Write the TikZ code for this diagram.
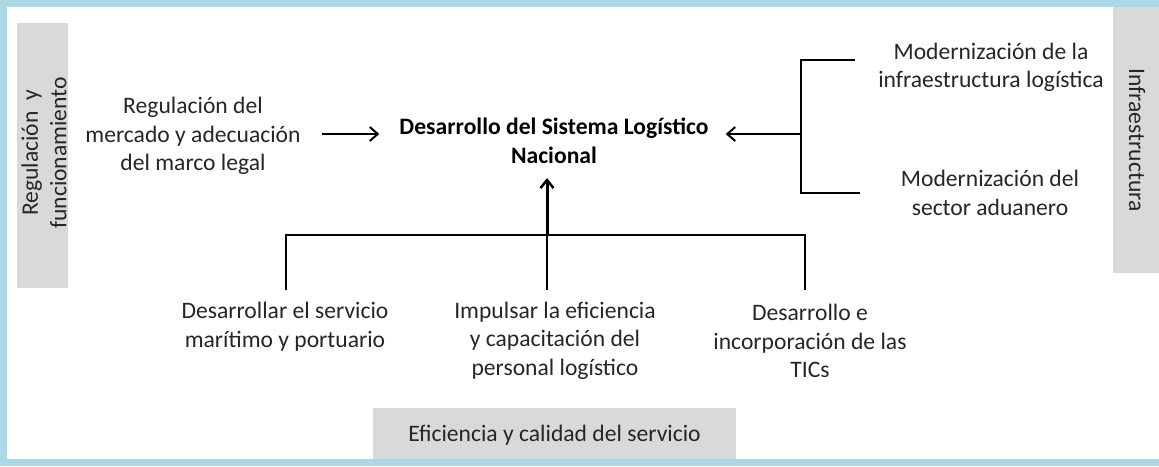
\documentclass[tikz,border=0pt]{standalone}
\usepackage{fontspec}
\setmainfont{Carlito}
\usetikzlibrary{arrows.meta}
\definecolor{frameblue}{HTML}{ADD8E6}
\definecolor{boxgray}{HTML}{D9D9D9}
\definecolor{txt}{HTML}{262626}
\begin{document}
\begin{tikzpicture}[x=1pt,y=-1pt,
  lbl/.style={align=center,font=\fontsize{23.6}{28.5}\selectfont,text=txt,inner sep=0pt},
  bold/.style={lbl,font=\fontsize{23.6}{29}\selectfont\bfseries,text=black},
  conn/.style={line width=2pt,draw=black},
  arr/.style={conn,-{Straight Barb[length=8pt,width=14pt,line width=2pt]}},
  uparr/.style={line width=3pt,draw=black,-{Straight Barb[length=8pt,width=13pt,line width=2.5pt]}},
  graybox/.style={fill=boxgray,draw=none,inner sep=0pt}]
\fill[frameblue] (0,0) rectangle (1159,466);
\fill[white] (7,7) rectangle (1159,459);
\useasboundingbox (0,0) rectangle (1159,466);
% gray category boxes
\node[graybox,minimum width=51pt,minimum height=265pt] (gl) at (42.5,155.5) {};
\node[lbl,rotate=90] (gltxt) at (44,153) {Regulación\ \ y\\funcionamiento};
\node[graybox,minimum width=46pt,minimum height=266pt] (gr) at (1136,140) {};
\node[lbl,rotate=-90] (grtxt) at (1137,140) {Infraestructura};
\node[graybox,minimum width=363pt,minimum height=51pt] (gb) at (554.5,433.5) {};
\node[lbl] (gbtxt) at (554.5,435) {Eficiencia y calidad del servicio};
% central node
\node[bold] (sys) at (554,141) {Desarrollo del Sistema Logístico\\Nacional};
% left
\node[lbl] (reg) at (193,136) {Regulación del\\mercado y adecuación\\del marco legal};
% right
\node[lbl] (infra) at (991,67.5) {Modernización de la\\infraestructura logística};
\node[lbl] (adu) at (990,193) {Modernización del\\sector aduanero};
% bottom
\node[lbl] (mar) at (285,326.5) {Desarrollar el servicio\\marítimo y portuario};
\node[lbl] (imp) at (555,340.5) {Impulsar la eficiencia\\y capacitación del\\personal logístico};
\node[lbl] (tic) at (810,341) {Desarrollo e\\incorporación de las\\TICs};
% connector junctions and free ends
\coordinate (bt) at (801,60);
\coordinate (bb) at (801,193);
\coordinate (bm) at (801,134);
\coordinate (hl) at (286,235);
\coordinate (hc) at (547,235);
\coordinate (hr) at (805,235);
\coordinate (el) at (286,290);
\coordinate (ec) at (547,290);
\coordinate (er) at (805,290);
\coordinate (et) at (855,60);
\coordinate (eb) at (860,193);
% left arrow
\draw[arr] ([xshift=21.5pt,yshift=2pt]reg.east) -- ([xshift=-20pt,yshift=7pt]sys.west);
% right bracket
\draw[conn] (et) -- (bt) -- (bb) -- (eb);
\draw[arr] (bm) -- ([xshift=17pt,yshift=7pt]sys.east);
% bottom tree
\draw[conn] (el) -- (hl) -- (hr) -- (er);
\draw[conn] (ec) -- (hc);
\draw[uparr] (hc) -- ([yshift=-14pt]sys.south -| hc);
\end{tikzpicture}
\end{document}
